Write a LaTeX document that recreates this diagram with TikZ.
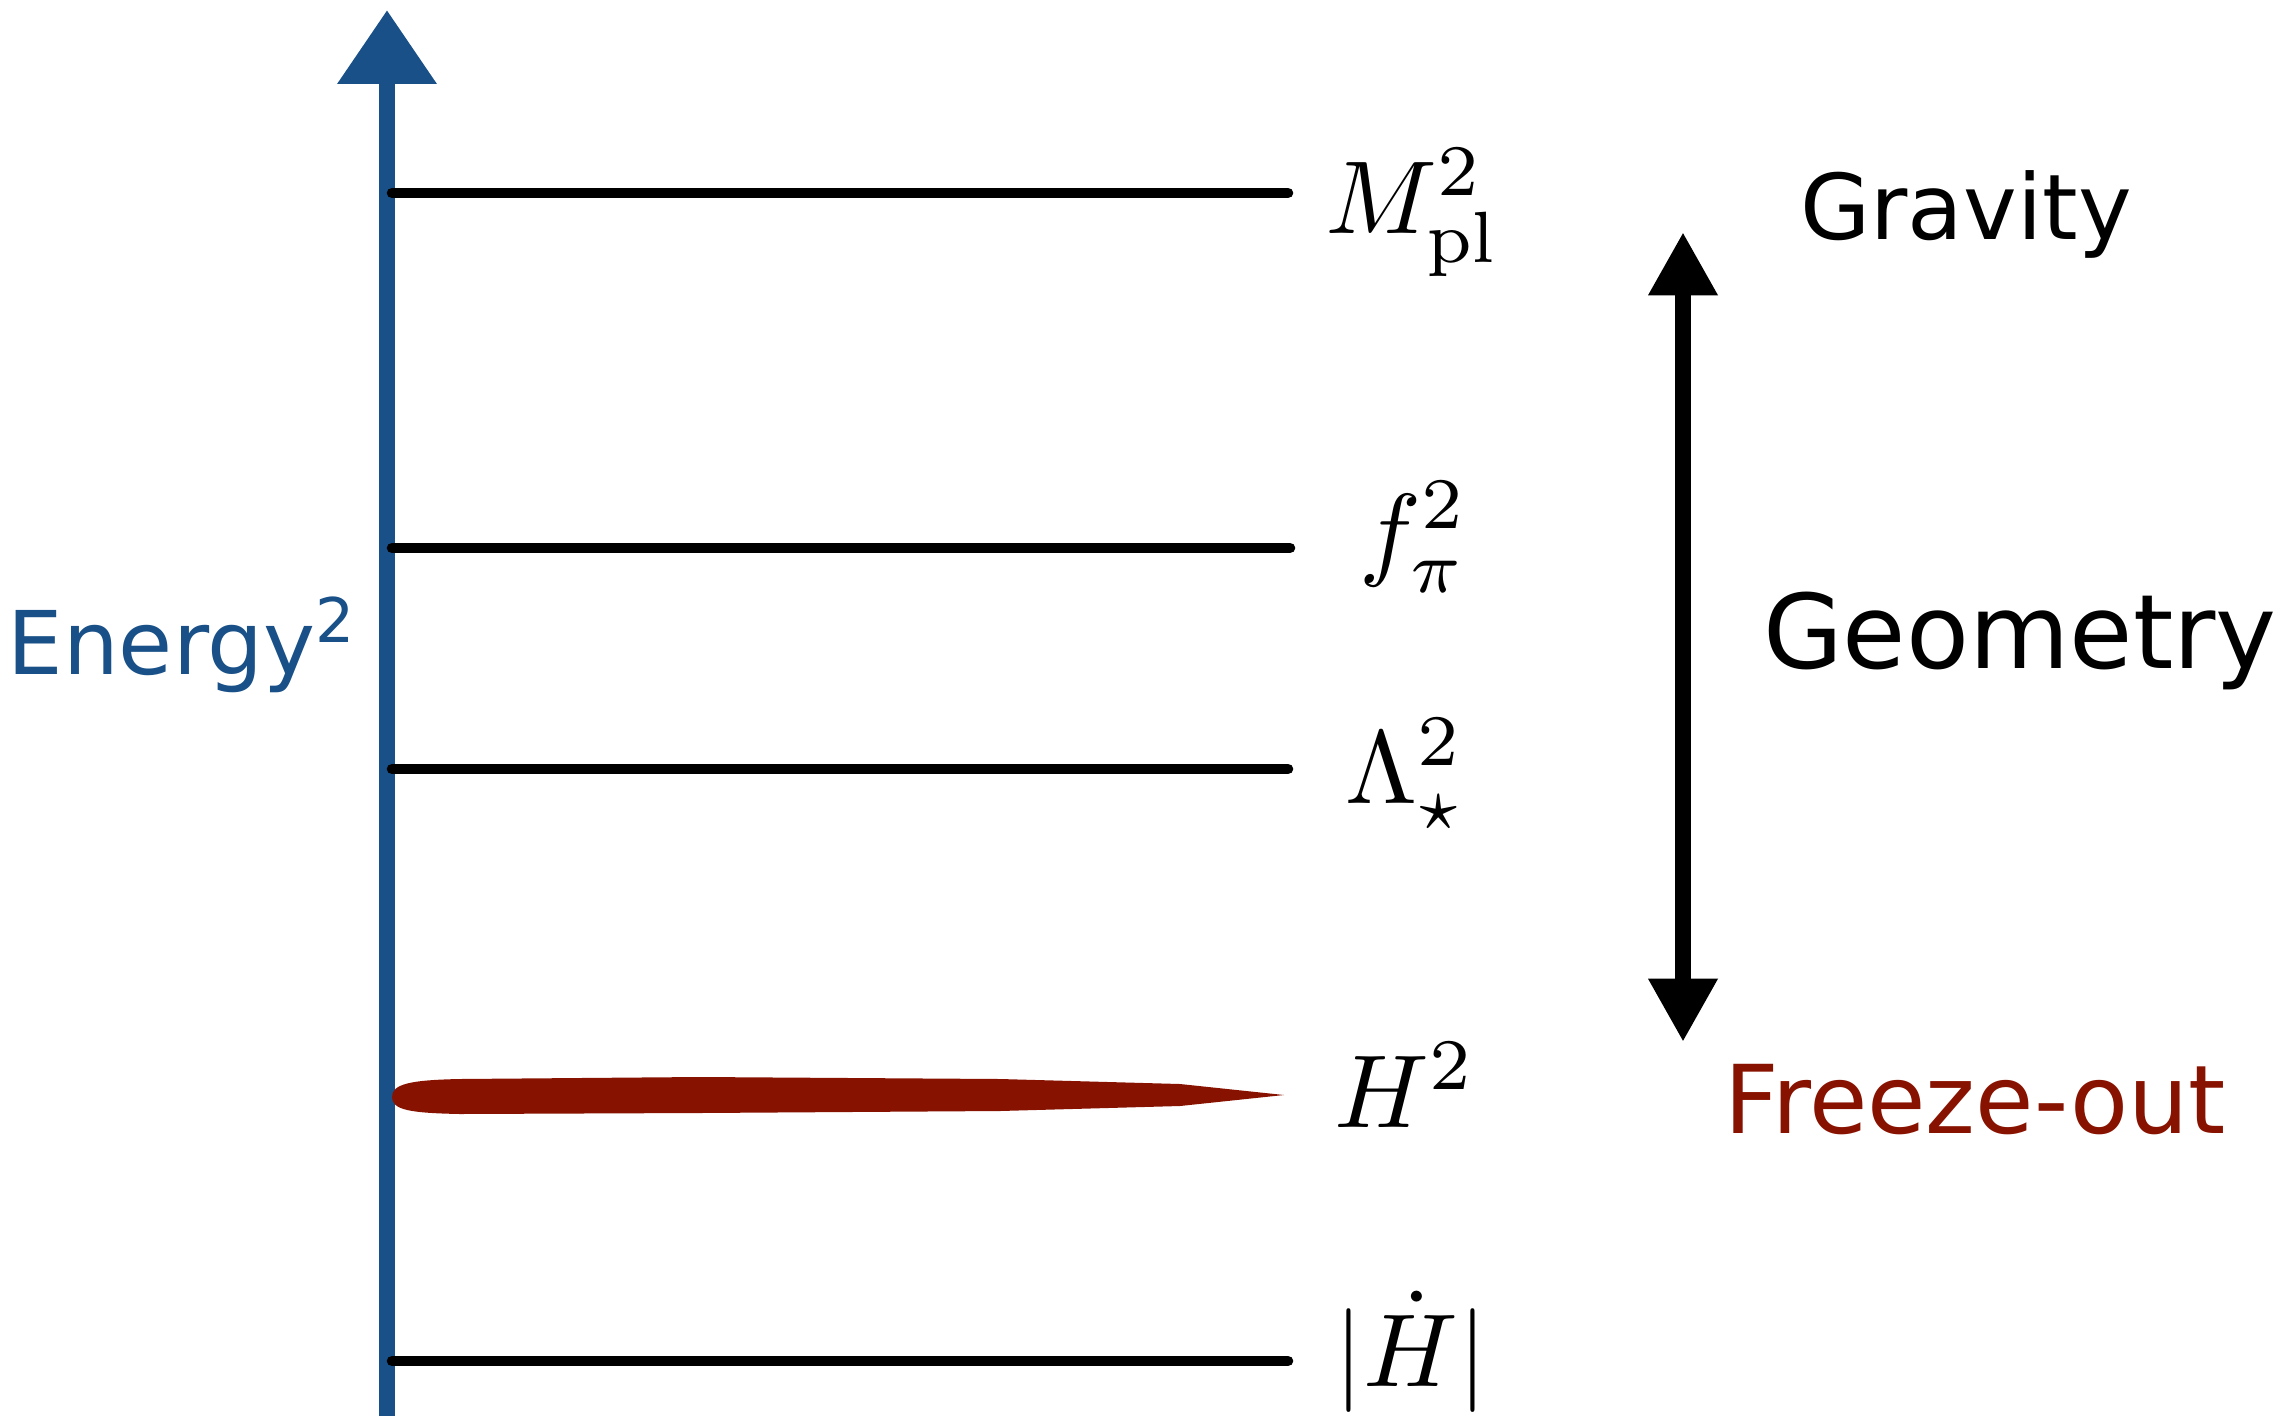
\documentclass[tikz,border=0pt]{standalone}
\usepackage{fontspec}
\usepackage{graphicx}
\newfontfamily\labfont{DejaVu Sans}
\usetikzlibrary{arrows.meta}
\definecolor{axisblue}{RGB}{24,80,135}
\definecolor{freezered}{RGB}{136,18,0}
\newcommand{\biglab}[1]{\scalebox{2.95}{$#1$}}
\tikzset{
  level/.style={line width=3pt, black, line cap=round},
  mathlab/.style={inner sep=0pt},
  textlab/.style={inner sep=0pt, font=\labfont\fontsize{25.8}{31}\selectfont},
}
\begin{document}
\begin{tikzpicture}[x=0.01cm,y=-0.01cm]
\useasboundingbox (0,0) rectangle (2285,1415);
% axis
\coordinate (axbot) at (387,1420);
\coordinate (axtop) at (387,10);
\draw[axisblue, line width=4.8pt, -{Triangle[width=27pt,length=21pt]}] (axbot) -- (axtop);
\node[textlab, text=axisblue, font=\labfont\fontsize{25}{30}\selectfont] (energy) at (182,645) {Energy\textsuperscript{2}};
% levels
\coordinate (l1a) at (392,193); \coordinate (l1b) at (1288,193);
\coordinate (l2a) at (392,548); \coordinate (l2b) at (1290,548);
\coordinate (l3a) at (392,769); \coordinate (l3b) at (1288,769);
\coordinate (l5a) at (392,1361); \coordinate (l5b) at (1288,1361);
\draw[level] (l1a) -- (l1b);
\draw[level] (l2a) -- (l2b);
\draw[level] (l3a) -- (l3b);
\draw[level] (l5a) -- (l5b);
% red brush stroke
\coordinate (hstart) at (392,1097);
\fill[freezered] (hstart) .. controls (392,1084) and (410,1080) .. (460,1079)
  -- (700,1077) -- (1000,1079) -- (1180,1084) -- (1284,1095)
  -- (1180,1106) -- (1000,1111) -- (700,1113) -- (460,1114)
  .. controls (410,1113) and (392,1110) .. (hstart) -- cycle;
% labels
\node[mathlab] (mpl) at (1413,213) {\biglab{M_{\mathrm{pl}}^2}};
\node[mathlab] (fpi) at (1414,537) {\biglab{f_\pi^2}};
\node[mathlab] (lam) at (1405,774) {\biglab{\Lambda_\star^2}};
\node[mathlab] (h2) at (1405,1085) {\biglab{H^2}};
\node[mathlab] (hdot) at (1411,1352) {\biglab{|\dot H|}};
% right side
\coordinate (dtop) at (1683,232);
\coordinate (dbot) at (1683,1042);
\draw[line width=4.8pt, {Triangle[width=18.5pt,length=18pt]}-{Triangle[width=18.5pt,length=18pt]}] (dbot) -- (dtop);
\node[textlab] (grav) at (1966,214) {Gravity};
\node[textlab, font=\labfont\fontsize{29.3}{35}\selectfont] (geom) at (2020,641) {Geometry};
\node[textlab, text=freezered, font=\labfont\fontsize{27}{32}\selectfont] (freeze) at (1975,1100) {Freeze-out};
\end{tikzpicture}
\end{document}
